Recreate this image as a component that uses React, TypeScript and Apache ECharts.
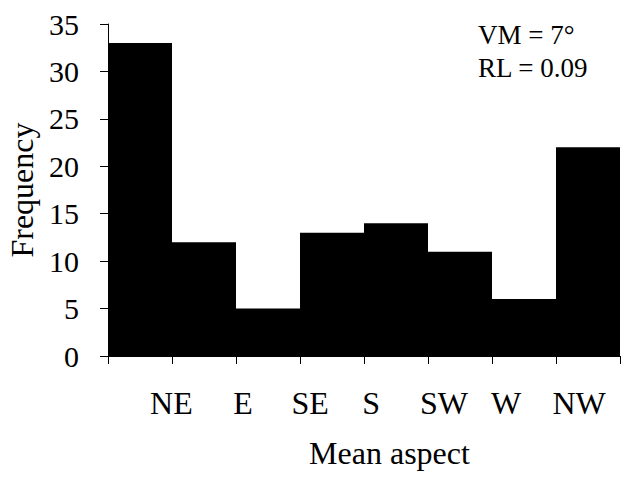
import React, { useEffect, useRef } from 'react';
import * as echarts from 'echarts';

// Histogram of mean aspect (8 bins of 45°)
const bins = ['N', 'NE', 'E', 'SE', 'S', 'SW', 'W', 'NW'];
const frequency = [33, 12, 5, 13, 14, 11, 6, 22];

// Tick labels shown under the axis, and where they sit (in bin units from the left edge)
const tickLabels = ['NE', 'E', 'SE', 'S', 'SW', 'W', 'NW'];
const tickLabelAt = [0.99, 2.11, 3.16, 4.11, 5.25, 6.22, 7.36];

const yMin = 0;
const yMax = 35;
const yStep = 5;

const statsLines = ['VM = 7°', 'RL = 0.09'];

const FONT = 'Liberation Serif';

export default function App() {
  const ref = useRef<HTMLDivElement>(null);

  useEffect(() => {
    document.body.style.margin = '0';
    if (!ref.current) return;
    const chart = echarts.init(ref.current, undefined, { renderer: 'svg' });
    const nearest = (v: number) => {
      let best = 0;
      for (let i = 1; i < tickLabelAt.length; i++) {
        if (Math.abs(tickLabelAt[i] - v) < Math.abs(tickLabelAt[best] - v)) best = i;
      }
      return best;
    };
    chart.setOption({
      animation: false,
      backgroundColor: '#fff',
      textStyle: { fontFamily: FONT, color: '#000' },
      grid: { left: 108, right: 4, top: 24, bottom: 122, outerBoundsMode: 'none', containLabel: false },
      xAxis: [
        {
          type: 'category',
          data: bins,
          boundaryGap: true,
          name: 'Mean aspect',
          nameLocation: 'middle',
          nameGap: 81,
          nameTextStyle: { fontFamily: FONT, fontSize: 32, color: '#000', padding: [0, 0, 0, 51] },
          axisLine: { show: true, lineStyle: { color: '#000', width: 1 } },
          axisTick: { show: true, alignWithLabel: false, interval: 0, length: 8, lineStyle: { color: '#000', width: 1 } },
          axisLabel: { show: false },
          splitLine: { show: false },
        },
        {
          type: 'value',
          min: 0,
          max: 8,
          position: 'bottom',
          axisLine: { show: false },
          axisTick: { show: false },
          splitLine: { show: false },
          axisLabel: {
            show: true,
            customValues: tickLabelAt,
            formatter: (v: number) => tickLabels[nearest(v)],
            fontFamily: FONT,
            fontSize: 32,
            color: '#000',
            margin: 31,
          },
        },
      ],
      yAxis: {
        type: 'value',
        min: yMin,
        max: yMax,
        interval: yStep,
        name: 'Frequency',
        nameLocation: 'middle',
        nameGap: 69,
        nameTextStyle: { fontFamily: FONT, fontSize: 32, color: '#000' },
        axisLine: { show: true, lineStyle: { color: '#000', width: 1 } },
        axisTick: { show: true, length: 8, lineStyle: { color: '#000', width: 1 } },
        axisLabel: { fontFamily: FONT, fontSize: 30, color: '#000', margin: 29 },
        splitLine: { show: false },
      },
      graphic: [
        {
          type: 'text',
          left: 478,
          top: 18,
          style: {
            text: statsLines.join('\n'),
            fontFamily: FONT,
            fontSize: 27,
            lineHeight: 33,
            fill: '#000',
          },
        },
      ],
      series: [
        {
          type: 'bar',
          xAxisIndex: 0,
          yAxisIndex: 0,
          data: frequency,
          barCategoryGap: '0%',
          barGap: '0%',
          itemStyle: { color: '#000' },
        },
      ],
    });
    return () => chart.dispose();
  }, []);

  return <div ref={ref} style={{ width: 624, height: 478 }} />;
}
